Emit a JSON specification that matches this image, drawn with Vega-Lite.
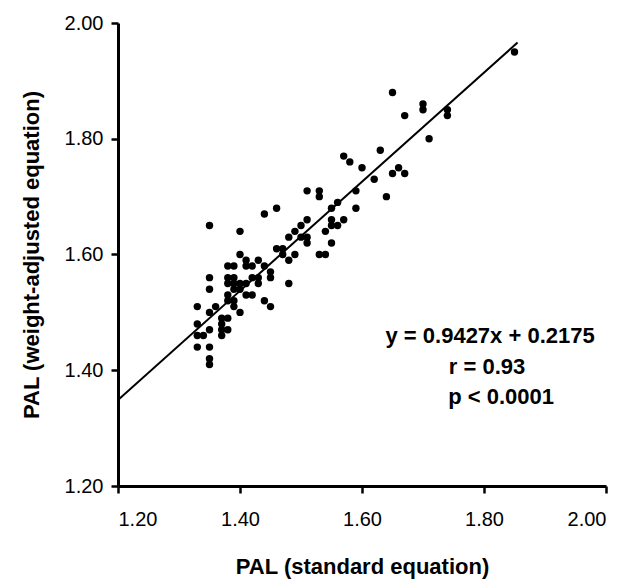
{
  "$schema": "https://vega.github.io/schema/vega-lite/v6.json",
  "width": 488,
  "height": 463,
  "autosize": "none",
  "padding": {"left": 118, "top": 23, "right": 34, "bottom": 95},
  "background": "white",
  "config": {
    "view": {"stroke": null},
    "font": "Liberation Sans",
    "axis": {
      "domainColor": "black",
      "domainWidth": 3,
      "tickColor": "black",
      "tickWidth": 2.5,
      "tickSize": 7,
      "grid": false,
      "labelFont": "Liberation Sans",
      "labelFontSize": 20,
      "labelColor": "black",
      "titleFont": "Liberation Sans",
      "titleFontSize": 22,
      "titleFontWeight": "bold",
      "titleColor": "black"
    }
  },
  "datasets": {
    "pts": [
      {"x": 1.33, "y": 1.51}, {"x": 1.33, "y": 1.48}, {"x": 1.33, "y": 1.46}, {"x": 1.34, "y": 1.46}, {"x": 1.33, "y": 1.44},
      {"x": 1.35, "y": 1.65}, {"x": 1.35, "y": 1.56}, {"x": 1.35, "y": 1.54}, {"x": 1.35, "y": 1.50}, {"x": 1.35, "y": 1.47},
      {"x": 1.35, "y": 1.44}, {"x": 1.35, "y": 1.42}, {"x": 1.35, "y": 1.41}, {"x": 1.36, "y": 1.51},
      {"x": 1.37, "y": 1.49}, {"x": 1.38, "y": 1.49}, {"x": 1.37, "y": 1.48}, {"x": 1.37, "y": 1.47}, {"x": 1.37, "y": 1.46}, {"x": 1.38, "y": 1.47},
      {"x": 1.38, "y": 1.58}, {"x": 1.38, "y": 1.56}, {"x": 1.38, "y": 1.55}, {"x": 1.38, "y": 1.53}, {"x": 1.38, "y": 1.52},
      {"x": 1.39, "y": 1.58}, {"x": 1.39, "y": 1.56}, {"x": 1.39, "y": 1.55}, {"x": 1.39, "y": 1.54}, {"x": 1.39, "y": 1.52}, {"x": 1.39, "y": 1.51},
      {"x": 1.40, "y": 1.64}, {"x": 1.40, "y": 1.60}, {"x": 1.40, "y": 1.55}, {"x": 1.40, "y": 1.54}, {"x": 1.40, "y": 1.50},
      {"x": 1.41, "y": 1.59}, {"x": 1.41, "y": 1.58}, {"x": 1.41, "y": 1.55}, {"x": 1.41, "y": 1.53},
      {"x": 1.42, "y": 1.58}, {"x": 1.42, "y": 1.56}, {"x": 1.42, "y": 1.53},
      {"x": 1.43, "y": 1.59}, {"x": 1.43, "y": 1.56}, {"x": 1.43, "y": 1.55},
      {"x": 1.44, "y": 1.67}, {"x": 1.44, "y": 1.58}, {"x": 1.44, "y": 1.52},
      {"x": 1.45, "y": 1.57}, {"x": 1.45, "y": 1.56}, {"x": 1.45, "y": 1.51},
      {"x": 1.46, "y": 1.68}, {"x": 1.46, "y": 1.61},
      {"x": 1.47, "y": 1.61}, {"x": 1.47, "y": 1.60},
      {"x": 1.48, "y": 1.63}, {"x": 1.48, "y": 1.59}, {"x": 1.48, "y": 1.55},
      {"x": 1.49, "y": 1.64}, {"x": 1.49, "y": 1.60},
      {"x": 1.50, "y": 1.65}, {"x": 1.50, "y": 1.63},
      {"x": 1.51, "y": 1.71}, {"x": 1.51, "y": 1.66}, {"x": 1.51, "y": 1.63}, {"x": 1.51, "y": 1.62},
      {"x": 1.53, "y": 1.71}, {"x": 1.53, "y": 1.70}, {"x": 1.53, "y": 1.60},
      {"x": 1.54, "y": 1.64}, {"x": 1.54, "y": 1.60},
      {"x": 1.55, "y": 1.68}, {"x": 1.55, "y": 1.66}, {"x": 1.55, "y": 1.65}, {"x": 1.55, "y": 1.62},
      {"x": 1.56, "y": 1.69}, {"x": 1.56, "y": 1.65},
      {"x": 1.57, "y": 1.77}, {"x": 1.57, "y": 1.66},
      {"x": 1.58, "y": 1.76},
      {"x": 1.59, "y": 1.71}, {"x": 1.59, "y": 1.68},
      {"x": 1.60, "y": 1.75},
      {"x": 1.62, "y": 1.73},
      {"x": 1.63, "y": 1.78},
      {"x": 1.64, "y": 1.70},
      {"x": 1.65, "y": 1.88}, {"x": 1.65, "y": 1.74},
      {"x": 1.66, "y": 1.75},
      {"x": 1.67, "y": 1.84}, {"x": 1.67, "y": 1.74},
      {"x": 1.70, "y": 1.86}, {"x": 1.70, "y": 1.85},
      {"x": 1.71, "y": 1.80},
      {"x": 1.74, "y": 1.85}, {"x": 1.74, "y": 1.84},
      {"x": 1.85, "y": 1.95}
    ],
    "fit": [
      {"x": 1.2, "y": 1.3487},
      {"x": 1.855, "y": 1.9662}
    ],
    "notes": [
      {"x": 1.81, "y": 1.459, "label": "y = 0.9427x + 0.2175"},
      {"x": 1.805, "y": 1.405, "label": "r = 0.93"},
      {"x": 1.828, "y": 1.353, "label": "p < 0.0001"}
    ]
  },
  "encoding": {
    "x": {
      "field": "x", "type": "quantitative",
      "scale": {"domain": [1.2, 2.0], "nice": false, "zero": false},
      "axis": {"values": [1.2, 1.4, 1.6, 1.8, 2.0], "format": ".2f", "title": "PAL (standard equation)", "labelPadding": 16, "titlePadding": 27}
    },
    "y": {
      "field": "y", "type": "quantitative",
      "scale": {"domain": [1.2, 2.0], "nice": false, "zero": false},
      "axis": {"values": [1.2, 1.4, 1.6, 1.8, 2.0], "format": ".2f", "title": "PAL (weight-adjusted equation)", "labelPadding": 8, "titlePadding": 21}
    }
  },
  "layer": [
    {
      "data": {"name": "fit"},
      "mark": {"type": "line", "color": "black", "strokeWidth": 2}
    },
    {
      "data": {"name": "pts"},
      "mark": {"type": "point", "filled": true, "color": "black", "opacity": 1, "size": 55}
    },
    {
      "data": {"name": "notes"},
      "mark": {"type": "text", "fontWeight": "bold", "fontSize": 22, "align": "center", "baseline": "middle", "color": "black", "font": "Liberation Sans"},
      "encoding": {"text": {"field": "label"}}
    }
  ]
}
